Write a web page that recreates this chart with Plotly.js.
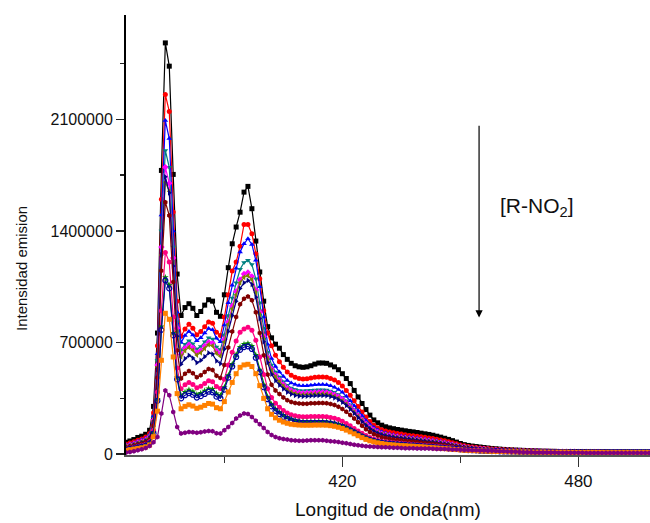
<!DOCTYPE html>
<html>
<head>
<meta charset="utf-8">
<script src="https://cdn.plot.ly/plotly-3.0.1.min.js"></script>
<style>html,body{margin:0;padding:0;background:#fff}#chart{width:650px;height:523px}</style>
</head>
<body>
<div id="chart"></div>
<script>
// Wavelength grid (nm), 1 nm steps
const wlStart = 365, wlEnd = 498;
const wavelength = [];
for (let w = wlStart; w <= wlEnd; w++) wavelength.push(w);

// Emission intensity values, in thousands
const sBlack = [75,83,92,105,113,125,150,300,760,1780, 2580,2434,1755,1130,870,920,944,915,870,895, 935,969,960,890,865,1000,1170,1320,1425,1518, 1644,1680,1540,1337,1143,960,800,730,690,665, 625,595,570,555,548,545,548,555,565,572, 572,570,560,548,530,505,475,443,400,359, 318,280,245,215,197,182,172,165,160,155, 151,147,143,140,136,132,128,124,119,113, 107,100,93,85,76,67,60,55,51,48, 45,42,39,36,34,32,30,28,27,26, 25,24,23,22,21,20,19,19,18,18, 17,17,17,16,16,16,16,15,15,15, 15,15,15,14,14,14,14,14,14,14, 14,14,14,14];
const sRed = [62,70,78,88,96,108,130,260,680,1600, 2256,2150,1520,960,740,785,815,790,750,770, 800,830,822,765,745,860,1000,1149,1205,1305, 1441,1441,1383,1258,1100,900,760,680,620,580, 545,515,495,482,475,472,474,478,482,484, 484,482,475,465,450,428,400,370,335,300, 265,233,205,182,165,153,145,139,134,130, 126,122,118,115,112,109,106,102,98,94, 89,84,78,72,65,58,53,49,45,42, 39,37,35,33,31,29,28,27,26,25, 24,23,22,21,20,19,19,18,18,17, 17,17,16,16,16,15,15,15,15,15, 15,14,14,14,14,14,14,14,14,14, 14,13,13,13];
const sBlue = [57,64,72,82,90,100,122,240,630,1500, 2093,1980,1400,890,700,745,770,748,712,730, 760,788,780,727,705,810,950,1060,1166,1268, 1320,1352,1316,1216,1050,860,690,600,550,516, 487,463,447,437,431,429,430,433,436,438, 438,436,430,420,406,388,363,335,304,272, 241,212,187,167,152,141,133,127,122,118, 114,111,108,105,102,99,96,93,89,85, 81,76,71,65,59,53,48,44,41,38, 36,34,32,30,29,27,26,25,24,23, 22,21,20,20,19,18,18,17,17,17, 16,16,16,15,15,15,15,15,14,14, 14,14,14,14,14,14,13,13,13,13, 13,13,13,13];
const sTeal = [53,60,67,76,84,94,115,225,590,1400, 1905,1800,1300,830,650,690,712,693,660,676, 705,730,722,673,655,750,870,980,1075,1160, 1203,1216,1190,1100,950,790,640,560,515,484, 455,432,416,406,400,398,399,401,403,404, 404,402,397,388,375,358,336,310,282,253, 225,198,175,157,143,133,126,120,116,112, 108,105,102,99,96,93,90,87,84,80, 76,72,67,62,56,51,46,42,39,37, 35,33,31,29,28,26,25,24,23,22, 21,21,20,19,19,18,18,17,17,16, 16,16,15,15,15,15,14,14,14,14, 14,14,14,13,13,13,13,13,13,13, 13,13,13,13];
const sMagenta = [50,57,64,73,80,90,110,215,560,1300, 1800,1700,1230,790,625,665,686,668,636,651, 679,703,696,648,630,720,830,930,1020,1095, 1130,1140,1115,1030,890,740,610,535,495,465, 437,415,400,390,385,383,384,386,388,389, 389,387,382,373,361,344,323,298,271,243, 216,191,169,152,139,129,122,117,113,109, 105,102,99,96,93,90,87,84,81,77, 73,69,64,59,54,49,45,41,38,36, 34,32,30,28,27,25,24,23,22,21, 21,20,19,19,18,18,17,17,16,16, 16,15,15,15,15,14,14,14,14,14, 14,13,13,13,13,13,13,13,13,13, 13,13,13,13];
const sOlive = [48,55,62,70,78,88,107,210,545,1250, 1706,1650,1200,770,610,650,670,653,622,636, 663,687,680,633,615,705,815,912,1000,1075, 1110,1120,1095,1012,875,728,598,524,485,455, 427,405,390,380,375,373,374,376,378,379, 379,377,372,364,352,335,315,291,264,237, 211,186,165,148,136,126,119,114,110,106, 103,100,97,94,91,88,85,82,79,75, 71,67,63,58,53,48,44,41,38,35, 33,31,29,28,26,25,24,23,22,21, 20,20,19,18,18,17,17,16,16,16, 15,15,15,15,14,14,14,14,14,14, 13,13,13,13,13,13,13,13,13,13, 13,13,12,12];
const sNavy = [45,51,58,66,73,83,100,200,530,1250, 1740,1640,1180,740,565,600,620,603,574,588, 612,635,628,585,568,660,770,870,960,1040, 1075,1090,1065,985,850,705,575,502,462,434, 410,390,377,369,365,363,364,366,368,369, 369,367,362,354,342,326,306,283,257,230, 205,181,160,144,132,123,116,111,107,103, 100,97,94,91,88,85,82,79,76,72, 69,65,61,56,51,47,43,40,37,34, 32,30,28,27,26,24,23,22,21,20, 20,19,19,18,17,17,16,16,16,15, 15,15,15,14,14,14,14,14,13,13, 13,13,13,13,13,13,13,13,12,12, 12,12,12,12];
const sMaroon = [40,46,52,59,66,75,90,180,480,1150, 1581,1498,1080,650,475,505,522,508,483,495, 515,535,528,492,478,560,670,770,860,940, 975,990,965,890,760,620,500,435,400,377, 356,339,328,321,318,316,317,319,320,321, 321,319,315,308,298,284,266,246,224,200, 178,157,139,125,115,107,101,97,93,90, 87,84,82,79,76,74,71,69,66,63, 60,56,53,49,45,41,38,35,33,31, 29,27,26,25,24,23,22,21,20,19, 19,18,18,17,17,16,16,15,15,15, 14,14,14,14,14,13,13,13,13,13, 13,13,12,12,12,12,12,12,12,12, 12,12,12,12];
const sPink = [34,39,44,50,56,63,78,150,390,900, 1266,1205,860,540,410,435,450,438,417,427, 444,460,455,424,412,470,560,640,710,765, 785,796,778,715,610,500,410,355,320,295, 274,259,248,241,237,235,235,236,237,237, 237,235,231,225,217,206,193,178,162,146, 131,117,105,95,88,82,78,75,72,70, 68,66,64,62,60,58,56,54,52,50, 48,45,43,40,37,34,32,30,28,27, 25,24,23,22,21,20,19,19,18,18, 17,17,16,16,15,15,15,14,14,14, 14,13,13,13,13,13,13,12,12,12, 12,12,12,12,12,12,12,11,11,11, 11,11,11,11];
const sGreen = [30,35,39,45,50,56,70,135,345,800, 1109,1060,760,480,368,390,404,393,374,383, 398,412,408,380,369,420,495,565,625,672, 690,695,678,622,530,435,360,313,283,262, 244,231,221,213,208,205,204,204,205,205, 205,203,200,195,188,179,168,156,143,129, 116,104,94,86,80,75,71,68,66,64, 62,60,58,57,55,53,51,49,47,45, 43,41,39,36,34,31,29,27,26,25, 23,22,21,20,19,19,18,17,17,16, 16,15,15,15,14,14,14,13,13,13, 13,13,12,12,12,12,12,12,12,11, 11,11,11,11,11,11,11,11,11,11, 11,11,11,11];
const sRoyal = [29,33,37,43,48,54,68,130,335,780, 1090,1040,745,470,350,370,383,373,355,364, 378,392,388,361,351,405,480,550,610,655, 672,677,660,605,515,420,345,300,272,252, 235,222,212,205,200,197,196,196,197,197, 197,195,192,187,180,172,161,150,137,124, 111,100,90,83,77,72,68,66,64,62, 60,58,56,55,53,51,49,47,45,43, 41,39,37,35,33,30,28,26,25,24, 22,21,20,19,19,18,17,17,16,16, 15,15,15,14,14,14,13,13,13,13, 13,12,12,12,12,12,12,11,11,11, 11,11,11,11,11,11,11,11,11,11, 11,11,11,11];
const sOrange = [24,28,32,36,40,46,58,110,270,589, 884,846,610,380,285,300,310,302,288,295, 306,318,314,292,285,330,390,450,505,545, 560,564,550,505,430,350,285,250,228,213, 202,194,188,185,183,182,182,182,183,183, 183,182,179,175,169,161,151,140,128,116, 104,93,84,77,71,67,63,60,58,56, 54,53,51,50,48,47,45,43,41,39, 37,35,33,31,29,27,25,24,23,22, 21,20,19,18,17,17,16,16,15,15, 14,14,14,13,13,13,13,12,12,12, 12,12,12,11,11,11,11,11,11,11, 11,11,10,10,10,10,10,10,10,10, 10,10,10,10];
const sPurple = [10,14,19,25,31,39,52,75,108,255, 400,370,265,171,130,135,140,138,134,138, 143,146,144,132,130,150,171,195,224,242, 255,252,234,210,188,165,140,120,108,100, 95,92,88,86,85,85,86,87,88,88, 87,85,82,79,76,72,68,64,60,56, 53,50,48,46,45,44,43,42,41,40, 39,38,37,37,36,36,35,35,34,33, 33,32,31,30,29,28,27,26,25,25, 24,23,22,21,20,19,18,17,16,15, 14,13,12,12,11,11,10,10,10,10, 9,9,9,9,9,9,9,8,8,8, 8,8,8,8,8,8,8,8,8,8, 8,8,8,8];

const seriesData = [sBlack, sRed, sBlue, sTeal, sMagenta, sOlive, sNavy, sMaroon, sPink, sGreen, sRoyal, sOrange, sPurple];
const seriesColors = ['#000000','#FF0000','#0000FF','#008080','#FF00FF','#808000','#000080','#800000','#FF0080','#008000','#0000A0','#FF8000','#800080'];
const seriesSymbols = ['square','circle','triangle-up','triangle-down','diamond','triangle-left','triangle-right','hexagon','circle','star','circle-open','square','hexagon'];

const yTickVals = [0, 700000, 1400000, 2100000];
const yTickText = ['0', '700000', '1400000', '2100000'];
const xTickVals = [420, 480];

const traces = seriesData.map((vals, i) => ({
  type: 'scatter',
  mode: 'lines+markers',
  x: wavelength,
  y: vals.map(v => v * 1000),
  line: {color: seriesColors[i], width: 1.2},
  marker: {color: seriesColors[i], symbol: seriesSymbols[i], size: 5,
           line: {width: seriesSymbols[i].endsWith('open') ? 1.2 : 0, color: seriesColors[i]}},
  hoverinfo: 'skip',
  showlegend: false
}));

const fontFam = '"Liberation Sans", Arial, sans-serif';
const layout = {
  width: 650, height: 523,
  margin: {l: 126, r: 0, t: 15, b: 68, pad: 0},
  paper_bgcolor: '#ffffff', plot_bgcolor: '#ffffff',
  showlegend: false,
  xaxis: {
    range: [365, 498.2], tickvals: xTickVals, ticktext: xTickVals.map(String),
    ticks: 'outside', ticklen: 10, tickwidth: 1.5, tickcolor: '#333',
    minor: {tickvals: [390, 450], ticks: 'outside', ticklen: 6, tickwidth: 1.5, tickcolor: '#333'},
    showline: true, linecolor: '#555', linewidth: 2, mirror: false,
    showgrid: false, zeroline: false,
    tickfont: {family: fontFam, size: 17, color: '#111'},
    title: {text: 'Longitud de onda(nm)', font: {family: fontFam, size: 19, color: '#111'}, standoff: 12}
  },
  yaxis: {
    range: [-5000, 2755000], tickvals: yTickVals, ticktext: yTickText,
    ticks: 'outside', ticklen: 8, tickwidth: 1.5, tickcolor: '#222',
    minor: {dtick: 350000, tick0: 0, ticks: 'outside', ticklen: 4, tickwidth: 1.5, tickcolor: '#222'},
    showline: true, linecolor: '#000', linewidth: 2,
    showgrid: false, zeroline: false,
    tickfont: {family: fontFam, size: 16, color: '#111'}
  },
  annotations: [
    {xref: 'paper', yref: 'paper', x: 0, y: 0, xanchor: 'center', yanchor: 'middle',
     xshift: -105, yshift: 186, textangle: -90, showarrow: false,
     text: 'Intensidad emision',
     font: {family: fontFam, size: 15, color: '#111'}},
    {xref: 'x', yref: 'y', x: 454.75, y: 858000, axref: 'x', ayref: 'y', ax: 454.75, ay: 2070000,
     showarrow: true, arrowhead: 2, arrowsize: 1.2, arrowwidth: 1.2, arrowcolor: '#000', text: ''},
    {xref: 'x', yref: 'y', x: 469.5, y: 1548000, xanchor: 'center', yanchor: 'middle', showarrow: false,
     text: '[R-NO<sub>2</sub>]', font: {family: fontFam, size: 21, color: '#111'}}
  ]
};

Plotly.newPlot('chart', traces, layout, {staticPlot: true, displayModeBar: false});
</script>
</body>
</html>
